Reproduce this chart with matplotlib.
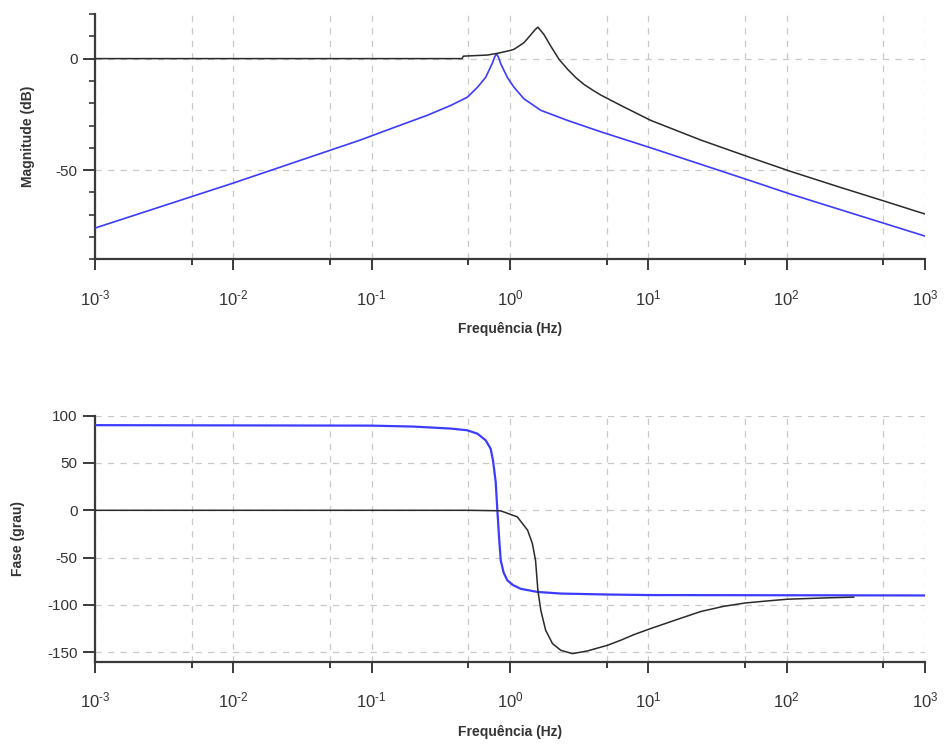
import math
import matplotlib
matplotlib.use("Agg")
import matplotlib.pyplot as plt
from matplotlib.ticker import FixedLocator, FuncFormatter, NullFormatter

plt.rcParams['font.family'] = ['Liberation Sans', 'DejaVu Sans']
plt.rcParams['mathtext.fontset'] = 'custom'
plt.rcParams['mathtext.rm'] = 'Liberation Sans'
plt.rcParams['axes.unicode_minus'] = False

# ---- data ----
mag_black_f = [0.001, 0.1, 0.45, 0.46, 0.686, 0.8, 0.857, 1.01, 1.07, 1.26, 1.34, 1.45, 1.52,
               1.59, 1.76, 1.97, 2.26, 2.6, 3.0, 3.43, 4.0, 4.52, 6.33, 10.4, 23.9, 52,
               107, 232, 507, 1000]
mag_black_db = [0, 0, 0, 1.1, 1.6, 2.3, 2.7, 3.7, 4.2, 7.1, 9.0, 11.5, 13.0,
                14.1, 10.8, 5.6, -0.3, -4.7, -8.6, -11.6, -14.3, -16.3, -21.0, -27.7, -36.5, -43.9,
                -50.6, -57.3, -63.9, -69.7]

mag_blue_f = [0.001, 0.01, 0.083, 0.145, 0.253, 0.373, 0.492, 0.581, 0.667, 0.746, 0.775,
              0.80, 0.83, 0.857, 0.958, 1.07, 1.26, 1.67, 2.6, 4.52, 10.4, 52, 107, 1000]
mag_blue_db = [-76, -55.8, -36.5, -30.9, -25.4, -21.0, -17.3, -12.9, -8.4, -2.0, 0.8,
               2.2, 0.2, -2.3, -8.5, -12.9, -18.0, -23.2, -27.7, -32.8, -40.0, -54.3, -60.8, -79.6]

ph_black_f = [0.001, 0.5, 0.85, 0.905, 1.13, 1.34, 1.45, 1.53, 1.59, 1.67, 1.81, 2.03, 2.33,
              2.83, 3.62, 5.06, 6.3, 8.0, 10.4, 15, 23.9, 35, 50, 70, 101, 200, 305]
ph_black_deg = [0, 0, -0.5, -1.8, -7, -21, -35, -53, -84.6, -105.7, -126.8, -141, -148,
                -151.5, -148.7, -142.7, -137.4, -131, -125, -117, -107, -101.5, -98, -96,
                -94, -92.5, -91.8]

ph_blue_f = [0.001, 0.1, 0.2, 0.372, 0.49, 0.581, 0.667, 0.725, 0.755, 0.788, 0.81, 0.833,
             0.857, 0.9, 0.957, 1.05, 1.195, 1.58, 2.33, 5.0, 10.0, 1000]
ph_blue_deg = [90, 89.5, 88.5, 86.4, 84.6, 81, 74, 65, 52, 30, 0, -28,
               -53, -66, -74, -79, -83, -86.3, -88, -89, -89.6, -90]

x_major = [1e-3, 1e-2, 1e-1, 1e0, 1e1, 1e2, 1e3]
x_minor = [5e-3, 5e-2, 5e-1, 5e0, 5e1, 5e2]
xlabel = "Frequência (Hz)"
mag_ylabel = "Magnitude (dB)"
ph_ylabel = "Fase (grau)"

BLACK = '#2a2a2a'
BLUE = '#3c3cff'
AXC = '#3a3a3a'
GRID = '#c9c9c9'
TXT = '#333333'

fig = plt.figure(figsize=(9.47, 7.49), dpi=100)


def xfmt(v, p):
    e = int(round(math.log10(v)))
    s = ('\u2010%d' % -e) if e < 0 else '%d' % e
    return r'$\mathregular{10^{%s}}$' % s


def style(ax, ylim, ymajor, yminor, ygrid):
    ax.set_xscale('log')
    ax.set_xlim(1e-3, 1e3)
    ax.set_ylim(*ylim)
    for s in ('top', 'right'):
        ax.spines[s].set_visible(False)
    for s in ('left', 'bottom'):
        ax.spines[s].set_color(AXC)
        ax.spines[s].set_linewidth(1.6)
    ax.xaxis.set_major_locator(FixedLocator(x_major))
    ax.xaxis.set_minor_locator(FixedLocator(x_minor))
    ax.xaxis.set_major_formatter(FuncFormatter(xfmt))
    ax.xaxis.set_minor_formatter(NullFormatter())
    ax.yaxis.set_major_locator(FixedLocator(ymajor))
    ax.yaxis.set_minor_locator(FixedLocator(yminor))
    ax.yaxis.set_minor_formatter(NullFormatter())
    ax.tick_params(axis='x', which='major', length=8, width=1.4, color=AXC,
                   labelsize=12, labelcolor=TXT, pad=13)
    ax.tick_params(axis='x', which='minor', length=4, width=1.4, color=AXC)
    ax.tick_params(axis='y', which='major', length=8.5, width=1.4, color=AXC,
                   labelsize=11, labelcolor=TXT, pad=4)
    ax.tick_params(axis='y', which='minor', length=4, width=1.2, color=AXC)
    gkw = dict(color=GRID, lw=0.9, ls=(0, (5, 5)), zorder=0)
    for xv in x_major + x_minor:
        ax.axvline(xv, **gkw)
    for yv in ygrid:
        ax.axhline(yv, **gkw)
    ax.set_xlabel(xlabel, fontsize=10, color=TXT, fontweight='bold', labelpad=10)


ax1 = fig.add_axes([0.1003, 0.6538, 0.8765, 0.3275])
style(ax1, (-90, 20), [0, -50], list(range(-90, 21, 10)), [0, -50])
ax1.plot(mag_blue_f, mag_blue_db, color=BLUE, lw=1.2, zorder=3)
ax1.plot(mag_black_f, mag_black_db, color=BLACK, lw=1.1, zorder=4)
ax1.set_ylabel(mag_ylabel, fontsize=10, color=TXT, fontweight='bold', labelpad=15)

ax2 = fig.add_axes([0.1003, 0.1166, 0.8765, 0.3284])
style(ax2, (-160, 100), [-150, -100, -50, 0, 50, 100], [], [-150, -100, -50, 0, 50, 100])
ax2.plot(ph_blue_f, ph_blue_deg, color=BLUE, lw=1.6, zorder=3)
ax2.plot(ph_black_f, ph_black_deg, color=BLACK, lw=1.1, zorder=4)
ax2.set_ylabel(ph_ylabel, fontsize=10, color=TXT, fontweight='bold', labelpad=16)

fig.savefig('out.png', dpi=100, facecolor='white')
